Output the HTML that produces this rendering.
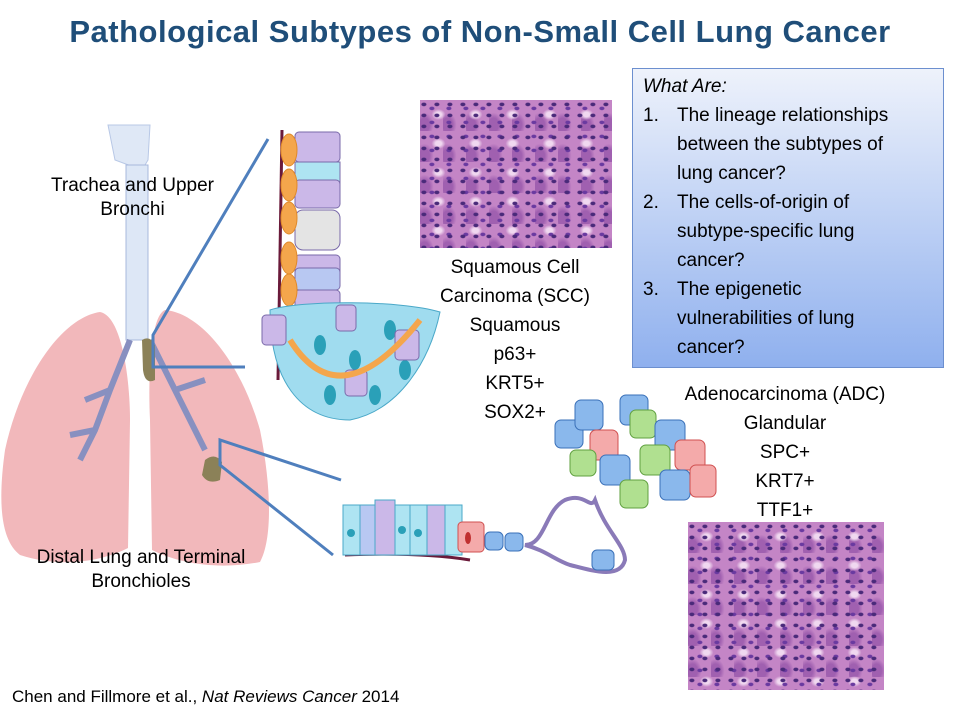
<!DOCTYPE html>
<html><head><meta charset="utf-8"><style>
body{margin:0;width:960px;height:720px;background:#fff;position:relative;overflow:hidden;font-family:"Liberation Sans",sans-serif}
.t{position:absolute;color:#000;font-size:19px;text-align:center;line-height:24px}
.histo{position:absolute;background-color:#c485c6;
background-image:radial-gradient(ellipse at 30% 40%,#4a2a7a 0 2px,transparent 3px),radial-gradient(ellipse at 70% 60%,#6a3aa0 0 2px,transparent 3px),radial-gradient(ellipse at 50% 50%,#f0d8f0 0 3px,transparent 7px),radial-gradient(ellipse at 20% 80%,#a060b0 0 5px,transparent 9px);
background-size:13px 11px,17px 14px,37px 29px,23px 31px}
.b{position:absolute;white-space:nowrap}
</style></head><body>
<div style="position:absolute;left:0;top:14px;width:960px;text-align:center;font-size:31px;font-weight:bold;color:#1f4e79;letter-spacing:0.5px">Pathological Subtypes of Non-Small Cell Lung Cancer</div>

<div style="position:absolute;left:632px;top:68px;width:310px;height:298px;border:1px solid #6c8fcf;background:linear-gradient(#eef2fb,#8fb0ee);font-size:19px;line-height:29px;color:#000">
<div class="b" style="left:10px;top:3px;font-style:italic">What Are:</div>
<div class="b" style="left:10px;top:32px">1.</div>
<div class="b" style="left:44px;top:32px">The lineage relationships<br>between the subtypes of<br>lung cancer?</div>
<div class="b" style="left:10px;top:119px">2.</div>
<div class="b" style="left:44px;top:119px">The cells-of-origin of<br>subtype-specific lung<br>cancer?</div>
<div class="b" style="left:10px;top:206px">3.</div>
<div class="b" style="left:44px;top:206px">The epigenetic<br>vulnerabilities of lung<br>cancer?</div>
</div>

<div class="histo" style="left:420px;top:100px;width:192px;height:148px"></div>
<div class="histo" style="left:688px;top:522px;width:196px;height:168px"></div>

<svg style="position:absolute;left:0;top:0" width="960" height="720">
<!-- lungs -->
<path d="M100 312 C60 318 20 380 5 450 C-2 500 0 540 20 555 C60 568 100 562 128 548 L130 420 C130 380 122 316 100 312Z" fill="#f2b8bb"/>
<path d="M165 310 C200 313 240 360 260 430 C272 490 272 540 260 562 C220 570 180 564 152 550 L150 420 C148 380 150 316 165 310Z" fill="#f2b8bb"/>
<path d="M108 125 L150 125 L148 160 L142 170 L115 160Z" fill="#dfe8f6" stroke="#b8c8e6"/>
<rect x="126" y="165" width="22" height="175" fill="#dde7f6" stroke="#a8b8dc"/>
<path d="M130 340 L110 390 L95 430 L80 460 M150 340 L175 390 L190 420 L205 450 M110 390 L85 400 M175 390 L205 380 M95 430 L70 435" stroke="#8890c0" stroke-width="6" fill="none"/>
<path d="M142 340 Q150 335 155 345 L155 380 Q145 385 143 370Z" fill="#8b8158"/>
<path d="M205 460 Q215 452 222 462 L220 480 Q208 485 202 475Z" fill="#8b8158"/>
<g stroke="#4f7fbd" stroke-width="3" fill="none">
<polyline points="268,139 153,335 153,367 245,367"/>
<polyline points="341,480 220,440 220,465 333,555"/>
</g>
<!-- trachea cells column -->
<path d="M282 130 L278 380" stroke="#6a1a3a" stroke-width="3"/>
<g stroke="#7a6aaa" stroke-width="1">
<rect x="295" y="132" width="45" height="30" rx="4" fill="#cbb8e8"/>
<rect x="295" y="162" width="45" height="22" fill="#aee4f2"/>
<rect x="295" y="180" width="45" height="28" rx="4" fill="#cbb8e8"/>
<rect x="295" y="210" width="45" height="40" rx="8" fill="#e4e4e4"/>
<rect x="295" y="255" width="45" height="25" rx="4" fill="#cbb8e8"/>
<rect x="295" y="268" width="45" height="22" rx="4" fill="#b8c8f2"/>
<rect x="295" y="290" width="45" height="22" rx="4" fill="#cbb8e8"/>
</g>
<g fill="#f4a64c" stroke="#e08a2a"><ellipse cx="289" cy="150" rx="8" ry="16"/><ellipse cx="289" cy="185" rx="8" ry="16"/><ellipse cx="289" cy="218" rx="8" ry="16"/><ellipse cx="289" cy="258" rx="8" ry="16"/><ellipse cx="289" cy="290" rx="8" ry="16"/></g>
<path d="M270 310 C300 300 400 300 440 312 C430 360 400 410 350 420 C300 420 270 380 270 310Z" fill="#a0dcef" stroke="#4aa8c8"/>
<g fill="#2aa0b8"><ellipse cx="320" cy="345" rx="6" ry="10"/><ellipse cx="355" cy="360" rx="6" ry="10"/><ellipse cx="390" cy="330" rx="6" ry="10"/><ellipse cx="330" cy="395" rx="6" ry="10"/><ellipse cx="375" cy="395" rx="6" ry="10"/><ellipse cx="405" cy="370" rx="6" ry="10"/></g>
<g fill="#cbb8e8" stroke="#7a6aaa"><rect x="262" y="315" width="24" height="30" rx="4"/><rect x="336" y="305" width="20" height="26" rx="4"/><rect x="395" y="330" width="24" height="30" rx="4"/><rect x="345" y="370" width="22" height="26" rx="4"/></g>
<path d="M290 340 Q340 420 420 320" stroke="#f4a64c" stroke-width="6" fill="none"/>
<!-- bronchiole -->
<path d="M345 555 Q420 552 470 560" stroke="#6a1a3a" stroke-width="3" fill="none"/>
<g stroke="#4aa8c8"><rect x="343" y="505" width="17" height="50" fill="#aee4f2"/><rect x="360" y="505" width="15" height="50" fill="#b8c8f2"/><rect x="375" y="500" width="20" height="55" fill="#cbb8e8"/><rect x="395" y="505" width="15" height="50" fill="#aee4f2"/><rect x="410" y="505" width="17" height="50" fill="#aee4f2"/><rect x="427" y="505" width="18" height="50" fill="#cbb8e8"/><rect x="445" y="505" width="17" height="50" fill="#aee4f2"/><rect x="458" y="522" width="26" height="30" rx="4" fill="#f4aaaa" stroke="#d05050"/></g>
<g fill="#2aa0b8"><circle cx="351" cy="533" r="4"/><circle cx="402" cy="530" r="4"/><circle cx="418" cy="533" r="4"/></g>
<ellipse cx="468" cy="538" rx="3" ry="6" fill="#c03030"/>
<path d="M525 545 C545 545 545 510 565 500 C585 492 590 510 595 500 C605 530 625 545 625 560 C620 580 590 570 570 565 C555 560 545 550 525 545Z" stroke="#8a7ab8" stroke-width="4" fill="#fff"/>
<rect x="485" y="532" width="18" height="18" rx="5" fill="#8ab8ec" stroke="#3a70b8"/><rect x="505" y="533" width="18" height="18" rx="5" fill="#8ab8ec" stroke="#3a70b8"/>
<rect x="592" y="550" width="22" height="20" rx="5" fill="#8ab8ec" stroke="#3a70b8"/>
<g stroke-width="1">
<rect x="555" y="420" width="28" height="28" rx="6" fill="#8ab8ec" stroke="#3a70b8"/>
<rect x="575" y="400" width="28" height="30" rx="6" fill="#8ab8ec" stroke="#3a70b8"/>
<rect x="620" y="395" width="28" height="30" rx="6" fill="#8ab8ec" stroke="#3a70b8"/>
<rect x="590" y="430" width="28" height="30" rx="6" fill="#f4aaaa" stroke="#d05050"/>
<rect x="630" y="410" width="26" height="28" rx="6" fill="#b0e090" stroke="#60a040"/>
<rect x="655" y="420" width="30" height="30" rx="6" fill="#8ab8ec" stroke="#3a70b8"/>
<rect x="600" y="455" width="30" height="30" rx="6" fill="#8ab8ec" stroke="#3a70b8"/>
<rect x="640" y="445" width="30" height="30" rx="6" fill="#b0e090" stroke="#60a040"/>
<rect x="675" y="440" width="30" height="30" rx="6" fill="#f4aaaa" stroke="#d05050"/>
<rect x="620" y="480" width="28" height="28" rx="6" fill="#b0e090" stroke="#60a040"/>
<rect x="660" y="470" width="30" height="30" rx="6" fill="#8ab8ec" stroke="#3a70b8"/>
<rect x="690" y="465" width="26" height="32" rx="6" fill="#f4aaaa" stroke="#d05050"/>
<rect x="570" y="450" width="26" height="26" rx="6" fill="#b0e090" stroke="#60a040"/>
</g>
</svg>

<div class="t" style="left:30px;top:174px;width:205px">Trachea and Upper Bronchi</div>
<div class="t" style="left:10px;top:546px;width:262px">Distal Lung and Terminal Bronchioles</div>
<div class="t" style="left:440px;top:253px;width:150px;line-height:29px">Squamous Cell Carcinoma (SCC)<br>Squamous<br>p63+<br>KRT5+<br>SOX2+</div>
<div class="t" style="left:660px;top:380px;width:250px;line-height:29px">Adenocarcinoma (ADC)<br>Glandular<br>SPC+<br>KRT7+<br>TTF1+</div>
<div style="position:absolute;left:12px;top:687px;font-size:17px">Chen and Fillmore et al., <i>Nat Reviews Cancer</i> 2014</div>
</body></html>
